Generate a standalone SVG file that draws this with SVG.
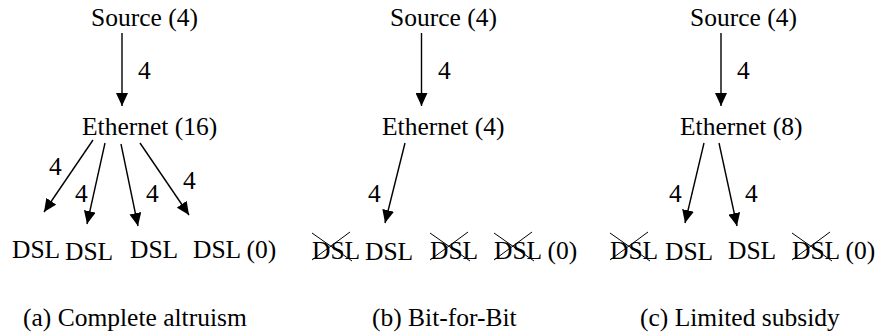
<svg xmlns="http://www.w3.org/2000/svg" width="877" height="332" viewBox="0 0 877 332" font-family="'Liberation Serif', 'Times New Roman', Times, 'DejaVu Serif', serif">
<style>
text{font-family:'Liberation Serif','Times New Roman',Times,'DejaVu Serif',serif;font-size:25.5px;fill:#000}
.e{stroke:#000;stroke-width:1.4;fill:none;marker-end:url(#ah)}
.x{stroke:#000;stroke-width:1;fill:none}
</style>
<defs>
<marker id="ah" markerUnits="userSpaceOnUse" markerWidth="14" markerHeight="12" refX="13" refY="6" orient="auto">
<path d="M0,0 L13,6 L0,12 z" fill="#000"/>
</marker>
</defs>
<rect width="877" height="332" fill="#fff"/>
<g id="connectors">
<line class="e" x1="122" y1="33" x2="122" y2="106"/>
<line class="e" x1="93" y1="140" x2="44" y2="212"/>
<line class="e" x1="105" y1="143" x2="87" y2="224"/>
<line class="e" x1="121" y1="144" x2="138" y2="226"/>
<line class="e" x1="140" y1="143" x2="189" y2="215"/>
<line class="e" x1="421.5" y1="33" x2="421.5" y2="106"/>
<line class="e" x1="405" y1="143" x2="385" y2="223"/>
<line class="e" x1="721" y1="33" x2="721" y2="106"/>
<line class="e" x1="704" y1="143" x2="685" y2="223"/>
<line class="e" x1="719" y1="143" x2="737" y2="226"/>
<text x="138" y="79">4</text>
<text x="49" y="175">4</text>
<text x="75" y="202">4</text>
<text x="146" y="202">4</text>
<text x="183" y="189">4</text>
<text x="438" y="79">4</text>
<text x="368" y="202">4</text>
<text x="737" y="79">4</text>
<text x="669" y="202">4</text>
<text x="745" y="202">4</text>
</g>
<g id="source-a"><text x="91" y="25.5">Source (4)</text></g>
<g id="ethernet-a"><text x="82" y="135">Ethernet (16)</text></g>
<g id="dsl-a1"><text x="12" y="258">DSL</text></g>
<g id="dsl-a2"><text x="65" y="260">DSL</text></g>
<g id="dsl-a3"><text x="130" y="258">DSL</text></g>
<g id="dsl-a4"><text x="193" y="258">DSL (0)</text></g>
<g id="caption-a"><text x="23" y="326">(a) Complete altruism</text></g>
<g id="source-b"><text x="390" y="25.5">Source (4)</text></g>
<g id="ethernet-b"><text x="382" y="135">Ethernet (4)</text></g>
<g id="dsl-b1"><text x="312" y="259">DSL</text><path class="x" d="M312,233 L352,261 M312,260 L350,232"/></g>
<g id="dsl-b2"><text x="365" y="260">DSL</text></g>
<g id="dsl-b3"><text x="430" y="259">DSL</text><path class="x" d="M430,233 L470,261 M430,260 L468,232"/></g>
<g id="dsl-b4"><text x="494" y="259">DSL (0)</text><path class="x" d="M494,233 L534,261 M494,260 L532,232"/></g>
<g id="caption-b"><text x="372" y="326">(b) Bit-for-Bit</text></g>
<g id="source-c"><text x="690" y="25.5">Source (4)</text></g>
<g id="ethernet-c"><text x="680" y="135">Ethernet (8)</text></g>
<g id="dsl-c1"><text x="610" y="259">DSL</text><path class="x" d="M610,233 L650,261 M610,260 L648,232"/></g>
<g id="dsl-c2"><text x="665" y="260">DSL</text></g>
<g id="dsl-c3"><text x="728" y="259">DSL</text></g>
<g id="dsl-c4"><text x="792" y="259">DSL (0)</text><path class="x" d="M792,233 L832,261 M792,260 L830,232"/></g>
<g id="caption-c"><text x="640" y="326">(c) Limited subsidy</text></g>
</svg>
